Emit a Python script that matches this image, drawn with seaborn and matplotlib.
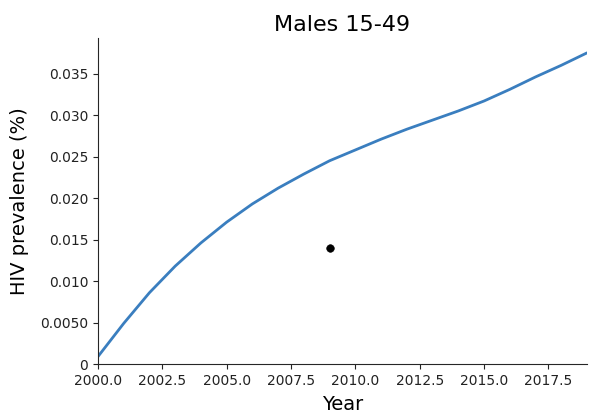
import matplotlib
matplotlib.use("Agg")
import matplotlib.pyplot as plt
import seaborn as sns
import pandas as pd
from matplotlib.ticker import FixedLocator, FixedFormatter

years = list(range(2000, 2020))
prevalence = [0.0009, 0.0049, 0.0086, 0.0118, 0.0146, 0.0171, 0.0193, 0.0212,
              0.0229, 0.0245, 0.0258, 0.0271, 0.0283, 0.0294, 0.0305, 0.0317,
              0.0331, 0.0346, 0.0360, 0.0375]

obs_year = [2009.0]
obs_value = [0.0140]

y_ticks = [0, 0.005, 0.010, 0.015, 0.020, 0.025, 0.030, 0.035]
y_labels = ["0", "0.0050", "0.010", "0.015", "0.020", "0.025", "0.030", "0.035"]
x_ticks = [2000.0, 2002.5, 2005.0, 2007.5, 2010.0, 2012.5, 2015.0, 2017.5]
x_labels = ["2000.0", "2002.5", "2005.0", "2007.5", "2010.0", "2012.5", "2015.0", "2017.5"]

sns.set_style("ticks")
plt.rcParams['font.family'] = ['DejaVu Sans']

model = pd.DataFrame({"Year": years, "prev": prevalence})
obs = pd.DataFrame({"Year": obs_year, "prev": obs_value})

fig = plt.figure(figsize=(5.92, 4.17), dpi=100)
ax = fig.add_axes([0.1655, 0.127, 0.826, 0.782])

sns.lineplot(data=model, x="Year", y="prev", ax=ax, color="#3a7ebf", linewidth=2)
sns.scatterplot(data=obs, x="Year", y="prev", ax=ax, color="black", s=30,
                edgecolor="black", zorder=3)

ax.set_xlim(2000, 2019)
ax.set_ylim(0, 0.0393)
ax.xaxis.set_major_locator(FixedLocator(x_ticks))
ax.xaxis.set_major_formatter(FixedFormatter(x_labels))
ax.yaxis.set_major_locator(FixedLocator(y_ticks))
ax.yaxis.set_major_formatter(FixedFormatter(y_labels))
ax.tick_params(labelsize=10, colors="#222222")

ax.set_title("Males 15-49", fontsize=16, color="black", pad=5)
ax.set_xlabel("Year", fontsize=14, color="black", labelpad=5)
ax.set_ylabel("HIV prevalence (%)", fontsize=14, color="black", labelpad=8)
sns.despine(ax=ax)

fig.savefig("out.png", dpi=100)
